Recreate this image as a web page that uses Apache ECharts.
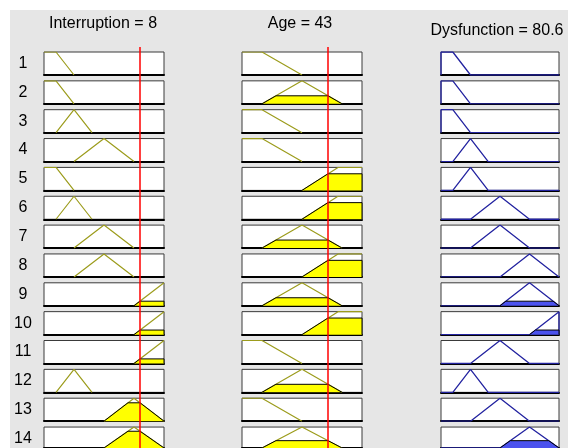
<!DOCTYPE html>
<html>
<head>
<meta charset="utf-8">
<script src="https://cdn.jsdelivr.net/npm/echarts@6.0.0/dist/echarts.min.js"></script>
<style>
  html, body { margin: 0; padding: 0; background: #fff; }
  #wrap { position: relative; width: 579px; height: 448px; overflow: hidden; }
  #panel { position: absolute; left: 10px; top: 10px; width: 558px; height: 438px; background: #e6e6e6; }
  #main { position: absolute; left: 0; top: 0; width: 579px; height: 448px; }
</style>
</head>
<body>
<div id="wrap"><div id="panel"></div><div id="main"></div></div>
<script>
// inputs / output: ranges, crisp values, membership functions [a b c d]
var intRange = [0, 10];
var intValue = 8;
var intMF = [[0, 0, 1, 2.5], [1, 2.5, 2.5, 4], [2.5, 5, 5, 7.5], [5, 7.5, 7.5, 10], [7.5, 10, 10, 10]];

var ageRange = [0, 60];
var ageValue = 43;
var ageMF = [[0, 0, 10, 30], [10, 30, 30, 50], [30, 48, 60, 60]];

var dysRange = [0, 100];
var dysValue = 80.6;
var dysMF = [[0, 0, 10, 25], [10, 25, 25, 40], [25, 50, 50, 75], [50, 75, 75, 100], [75, 100, 100, 100]];

// rule table: which MF each rule uses
var ruleInt = [0, 0, 1, 2, 0, 1, 2, 2, 4, 4, 4, 1, 3, 3];
var ruleAge = [0, 1, 0, 0, 2, 2, 1, 2, 1, 2, 0, 1, 0, 1];
var ruleDys = [0, 0, 0, 1, 1, 2, 2, 3, 3, 4, 2, 1, 2, 3];

var titles = ['Interruption = ' + intValue, 'Age = ' + ageValue, 'Dysfunction = ' + dysValue];

// layout
var colLeft = [44, 242, 441];
var colWidth = [120, 120, 118];
var rowTop0 = 52, rowStep = 28.85, boxH = 23;
var olive = '#9c9c1c', yellow = '#ffff00', blueLine = '#2323a0', blueFill = '#4b52ee';

function mf(x, p) {
  if (x < p[0] || x > p[3]) return 0;
  if (x < p[1]) return (x - p[0]) / (p[1] - p[0]);
  if (x <= p[2]) return 1;
  return (p[3] - x) / (p[3] - p[2]);
}

function mfLine(p, range, withBase) {
  var pts = [];
  if (withBase && range[0] < p[0]) pts.push([range[0], 0]);
  if (p[0] !== p[1] || withBase) pts.push([p[0], 0]);
  pts.push([p[1], 1]);
  if (p[2] !== p[1]) pts.push([p[2], 1]);
  if (p[2] !== p[3] || withBase) pts.push([p[3], 0]);
  if (withBase && range[1] > p[3]) pts.push([range[1], 0]);
  return pts;
}

function clipped(p, h) {
  h = Math.min(h, 1);
  return [[p[0], 0], [p[0] + h * (p[1] - p[0]), h], [p[3] - h * (p[3] - p[2]), h], [p[3], 0]];
}

var grids = [], xAxes = [], yAxes = [], series = [], graphics = [];
var ranges = [intRange, ageRange, dysRange];

for (var r = 0; r < 14; r++) {
  var muI = mf(intValue, intMF[ruleInt[r]]);
  var muA = mf(ageValue, ageMF[ruleAge[r]]);
  var fire = Math.min(muI, muA);
  var cells = [
    { p: intMF[ruleInt[r]], h: muI, line: olive, fill: yellow, base: false },
    { p: ageMF[ruleAge[r]], h: muA, line: olive, fill: yellow, base: false },
    { p: dysMF[ruleDys[r]], h: fire, line: blueLine, fill: blueFill, base: true }
  ];
  var rowY = rowTop0 + r * rowStep;
  for (var c = 0; c < 3; c++) {
    var g = grids.length;
    grids.push({
      left: colLeft[c], top: rowY, width: colWidth[c], height: boxH,
      show: true, backgroundColor: '#fff', borderColor: '#3a3a3a', borderWidth: 1
    });
    xAxes.push({
      gridIndex: g, type: 'value', min: ranges[c][0], max: ranges[c][1],
      axisLine: { show: true, onZero: false, lineStyle: { color: '#000', width: 2 } },
      axisTick: { show: false }, axisLabel: { show: false }, splitLine: { show: false }
    });
    yAxes.push({ gridIndex: g, type: 'value', min: 0, max: 1, show: false });
    var cell = cells[c];
    series.push({
      type: 'line', xAxisIndex: g, yAxisIndex: g, z: 3,
      data: mfLine(cell.p, ranges[c], cell.base), showSymbol: false, silent: true,
      lineStyle: { color: cell.line, width: cell.base ? 1.3 : 1.2 }
    });
    if (cell.h > 0) {
      series.push({
        type: 'line', xAxisIndex: g, yAxisIndex: g, z: 4,
        data: clipped(cell.p, cell.h), showSymbol: false, silent: true,
        lineStyle: { color: '#000', width: 1 },
        areaStyle: { color: cell.fill, opacity: 1 }
      });
    }
  }
  graphics.push({
    type: 'text', x: 23, y: rowY + boxH / 2, silent: true,
    style: { text: String(r + 1), fill: '#000', font: '16px "Liberation Sans", Arial, sans-serif',
             align: 'center', verticalAlign: 'middle' }
  });
}

// red lines showing the crisp input values
var inputValues = [intValue, ageValue];
for (var k = 0; k < 2; k++) {
  var gi = grids.length;
  grids.push({ left: colLeft[k], top: 47, width: colWidth[k], height: 401, show: false });
  xAxes.push({ gridIndex: gi, type: 'value', min: ranges[k][0], max: ranges[k][1], show: false });
  yAxes.push({ gridIndex: gi, type: 'value', min: 0, max: 1, show: false });
  series.push({
    type: 'line', xAxisIndex: gi, yAxisIndex: gi, z: 10, silent: true, showSymbol: false,
    data: [[inputValues[k], 0], [inputValues[k], 1]],
    lineStyle: { color: '#ff0000', width: 1.5 }
  });
}

var titleX = [103, 300, 497], titleY = [24, 24, 31];
for (var t = 0; t < 3; t++) {
  graphics.push({
    type: 'text', x: titleX[t], y: titleY[t], silent: true,
    style: { text: titles[t], fill: '#000', font: '16px "Liberation Sans", Arial, sans-serif',
             align: 'center', verticalAlign: 'middle' }
  });
}

var myChart = echarts.init(document.getElementById('main'));
myChart.setOption({
  animation: false,
  grid: grids,
  xAxis: xAxes,
  yAxis: yAxes,
  series: series,
  graphic: { elements: graphics }
});
</script>
</body>
</html>
